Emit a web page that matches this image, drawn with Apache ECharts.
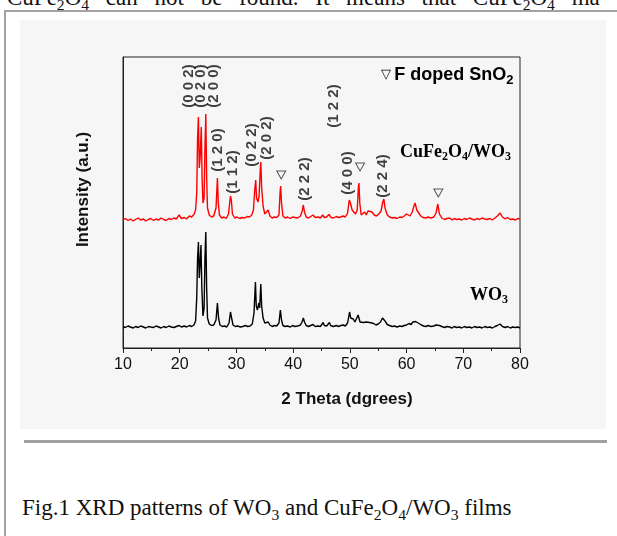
<!DOCTYPE html>
<html>
<head>
<meta charset="utf-8">
<title>Fig.1 XRD patterns of WO3 and CuFe2O4/WO3 films</title>
<script src="https://cdn.jsdelivr.net/npm/echarts@6/dist/echarts.min.js"></script>
<style>
    html, body { margin: 0; padding: 0; background: #fff; }
    #page { position: relative; width: 617px; height: 536px; overflow: hidden; font-family: 'Liberation Serif', 'Times New Roman', serif; color: #111; }
    .doc-line { position: absolute; left: 7px; top: -14px; font-size: 23px; line-height: 23px; white-space: nowrap; word-spacing: 11px; }
    .sb { font-size: 0.68em; position: relative; top: 0.3em; }
    #frame { position: absolute; left: 4px; top: 10px; width: 700px; height: 600px; border-left: 2px solid #a3a3a3; border-top: 2px solid #a3a3a3; }
    #figbg { position: absolute; left: 20px; top: 20px; width: 586px; height: 409px; background: #f6f6f6; }
    #rule { position: absolute; left: 24px; top: 440px; width: 583px; height: 3px; background: #a0a0a0; }
    #caption { position: absolute; left: 22px; top: 496px; font-size: 23px; line-height: 23px; white-space: nowrap; }
    #chart { position: absolute; left: 0; top: 0; width: 617px; height: 536px; }
</style>
</head>
<body>
<div id="page">
    <div class="doc-line">CuFe<span class="sb">2</span>O<span class="sb">4</span> can not be found. It means that CuFe<span class="sb">2</span>O<span class="sb">4</span> ma</div>
    <div id="frame"></div>
    <div id="figbg"></div>
    <div id="rule"></div>
    <div id="caption">Fig.1 XRD patterns of WO<span class="sb">3</span> and CuFe<span class="sb">2</span>O<span class="sb">4</span>/WO<span class="sb">3</span> films</div>
    <div id="chart"></div>
</div>
<script>
// 2 theta (deg), intensity (a.u., offset pattern)
var cfoPattern = [
    [10.0, 1280], [10.4, 1295], [10.9, 1275], [11.3, 1290], [11.8, 1270], [12.2, 1285], [12.7, 1300], [13.1, 1280],
    [13.6, 1290], [14.0, 1270], [14.5, 1285], [14.9, 1295], [15.4, 1275], [15.8, 1290], [16.3, 1280], [16.7, 1300],
    [17.2, 1285], [17.6, 1275], [18.1, 1295], [18.5, 1285], [19.0, 1300], [19.4, 1290], [19.9, 1330], [20.3, 1295],
    [20.8, 1305], [21.2, 1290], [21.7, 1320], [22.1, 1310], [22.5, 1335], [22.8, 1380], [23.0, 1550], [23.15, 2100],
    [23.3, 2310], [23.45, 1800], [23.6, 1900], [23.8, 2210], [23.95, 1700], [24.1, 1450], [24.3, 1500], [24.45, 2000],
    [24.6, 2340], [24.75, 1700], [24.9, 1400], [25.2, 1330], [25.6, 1310], [26.0, 1320], [26.4, 1400], [26.65, 1700],
    [26.8, 1450], [27.0, 1330], [27.4, 1300], [27.8, 1310], [28.2, 1295], [28.6, 1340], [28.95, 1520], [29.1, 1480],
    [29.3, 1340], [29.7, 1300], [30.1, 1310], [30.6, 1295], [31.0, 1305], [31.5, 1300], [31.9, 1315], [32.3, 1310],
    [32.7, 1330], [33.0, 1380], [33.2, 1560], [33.4, 1680], [33.55, 1500], [33.8, 1460], [34.0, 1520], [34.2, 1780],
    [34.3, 1860], [34.45, 1600], [34.7, 1420], [35.0, 1340], [35.3, 1340], [35.6, 1380], [35.9, 1320], [36.3, 1300],
    [36.7, 1310], [37.1, 1305], [37.5, 1330], [37.7, 1560], [37.8, 1620], [37.95, 1450], [38.2, 1320], [38.6, 1300],
    [39.0, 1310], [39.5, 1295], [39.9, 1310], [40.3, 1305], [40.8, 1300], [41.3, 1320], [41.6, 1370], [41.8, 1430],
    [42.0, 1360], [42.3, 1310], [42.7, 1300], [43.1, 1315], [43.5, 1330], [43.9, 1305], [44.4, 1310], [44.8, 1300],
    [45.2, 1330], [45.5, 1305], [45.9, 1310], [46.3, 1335], [46.7, 1305], [47.1, 1300], [47.6, 1315], [48.0, 1305],
    [48.4, 1310], [48.8, 1320], [49.2, 1310], [49.6, 1350], [49.9, 1480], [50.1, 1450], [50.4, 1380], [50.7, 1360],
    [51.0, 1340], [51.3, 1380], [51.5, 1600], [51.6, 1650], [51.75, 1450], [52.0, 1330], [52.3, 1340], [52.6, 1360],
    [52.9, 1330], [53.2, 1370], [53.5, 1350], [53.9, 1360], [54.3, 1330], [54.7, 1320], [55.1, 1340], [55.5, 1370],
    [55.8, 1460], [56.0, 1490], [56.2, 1400], [56.6, 1330], [57.0, 1310], [57.5, 1300], [57.9, 1305], [58.3, 1295],
    [58.8, 1310], [59.2, 1305], [59.6, 1320], [60.0, 1340], [60.3, 1350], [60.6, 1320], [61.0, 1360], [61.3, 1420],
    [61.5, 1450], [61.8, 1380], [62.1, 1360], [62.5, 1320], [62.9, 1305], [63.4, 1300], [63.8, 1310], [64.3, 1300],
    [64.8, 1310], [65.2, 1350], [65.5, 1440], [65.8, 1340], [66.2, 1300], [66.7, 1285], [67.1, 1295], [67.6, 1300],
    [68.0, 1280], [68.4, 1295], [68.8, 1285], [69.3, 1290], [69.7, 1280], [70.2, 1295], [70.6, 1285], [71.1, 1300],
    [71.5, 1290], [72.0, 1280], [72.4, 1295], [72.9, 1285], [73.3, 1300], [73.8, 1290], [74.2, 1285], [74.7, 1295],
    [75.1, 1280], [75.6, 1300], [76.0, 1320], [76.5, 1350], [76.9, 1310], [77.4, 1290], [77.8, 1305], [78.3, 1285],
    [78.7, 1290], [79.2, 1280], [79.6, 1295], [80.0, 1290]
];

var wo3Pattern = [
    [10.0, 215], [10.4, 205], [10.9, 220], [11.3, 210], [11.8, 200], [12.2, 215], [12.7, 205], [13.1, 220],
    [13.6, 210], [14.0, 200], [14.5, 215], [14.9, 210], [15.4, 205], [15.8, 220], [16.3, 210], [16.7, 200],
    [17.2, 215], [17.6, 205], [18.1, 220], [18.5, 210], [19.0, 205], [19.4, 215], [19.9, 225], [20.3, 210],
    [20.8, 220], [21.2, 210], [21.7, 225], [22.1, 215], [22.5, 230], [22.8, 270], [23.0, 500], [23.15, 900],
    [23.3, 1060], [23.45, 700], [23.6, 850], [23.75, 1030], [23.9, 600], [24.1, 320], [24.3, 400], [24.45, 900],
    [24.6, 1160], [24.75, 600], [24.9, 300], [25.2, 240], [25.6, 225], [26.0, 230], [26.4, 280], [26.65, 450],
    [26.85, 300], [27.1, 230], [27.5, 215], [27.9, 220], [28.3, 210], [28.7, 250], [28.95, 360], [29.15, 300],
    [29.4, 230], [29.8, 215], [30.2, 220], [30.7, 210], [31.1, 215], [31.6, 225], [32.0, 215], [32.4, 220],
    [32.8, 240], [33.1, 350], [33.35, 660], [33.5, 420], [33.7, 380], [33.95, 450], [34.1, 400], [34.3, 640],
    [34.45, 420], [34.7, 300], [35.0, 250], [35.3, 240], [35.6, 260], [35.9, 230], [36.3, 215], [36.7, 225],
    [37.1, 220], [37.5, 250], [37.75, 380], [37.95, 280], [38.2, 225], [38.6, 215], [39.0, 220], [39.5, 210],
    [39.9, 225], [40.3, 215], [40.8, 220], [41.3, 230], [41.6, 265], [41.8, 300], [42.0, 260], [42.3, 225],
    [42.7, 215], [43.1, 225], [43.5, 235], [43.9, 215], [44.4, 220], [44.8, 215], [45.1, 230], [45.3, 255],
    [45.5, 225], [45.9, 220], [46.2, 235], [46.4, 255], [46.6, 225], [47.1, 215], [47.6, 225], [48.0, 215],
    [48.4, 225], [48.8, 230], [49.2, 220], [49.6, 250], [49.95, 360], [50.15, 300], [50.4, 310], [50.6, 290],
    [50.9, 260], [51.2, 270], [51.45, 330], [51.6, 310], [51.8, 260], [52.1, 240], [52.4, 255], [52.7, 235],
    [52.9, 260], [53.2, 240], [53.5, 255], [53.8, 235], [54.2, 245], [54.6, 230], [55.0, 240], [55.4, 260],
    [55.75, 300], [55.95, 315], [56.2, 270], [56.6, 235], [57.0, 225], [57.5, 215], [57.9, 220], [58.3, 210],
    [58.8, 220], [59.2, 215], [59.6, 225], [60.0, 230], [60.4, 245], [60.8, 235], [61.1, 260], [61.4, 280],
    [61.6, 265], [61.9, 270], [62.2, 245], [62.6, 230], [63.0, 220], [63.4, 215], [63.8, 225], [64.3, 215],
    [64.8, 220], [65.2, 230], [65.5, 250], [65.8, 225], [66.2, 215], [66.7, 205], [67.1, 215], [67.6, 210],
    [68.0, 200], [68.4, 215], [68.8, 205], [69.3, 210], [69.7, 200], [70.2, 215], [70.6, 205], [71.1, 210],
    [71.5, 200], [72.0, 215], [72.4, 205], [72.9, 210], [73.3, 200], [73.8, 215], [74.2, 205], [74.7, 210],
    [75.1, 200], [75.6, 215], [76.0, 225], [76.5, 240], [76.9, 215], [77.4, 205], [77.8, 215], [78.3, 200],
    [78.7, 210], [79.2, 205], [79.6, 210], [80.0, 200]
];

// Miller index labels: text, 2 theta, height of label centre
var hklNames = ['(0 0 2)', '(0 2 0)', '(2 0 0)', '(1 2 0)', '(1 1 2)', '(0 2 2)', '(2 0 2)', '(1 2 2)', '(2 2 2)', '(4 0 0)', '(2 2 4)'];
var hklTheta = [21.6, 23.8, 26.0, 26.8, 29.4, 32.8, 35.3, 47.2, 42.1, 49.7, 55.9];
var hklHeight = [2620, 2620, 2620, 1980, 1760, 2030, 2100, 2420, 1690, 1750, 1720];

// F doped SnO2 markers
var snTheta = [37.9, 51.8, 65.6];
var snHeight = [1730, 1810, 1550];

var xTicks = [10, 20, 30, 40, 50, 60, 70, 80];

var chart = echarts.init(document.getElementById('chart'), null, { renderer: 'canvas' });

var hklData = [];
for (var i = 0; i < hklNames.length; i++) {
    hklData.push({ name: hklNames[i], value: [hklTheta[i], hklHeight[i]] });
}
var snData = [];
for (var j = 0; j < snTheta.length; j++) {
    snData.push([snTheta[j], snHeight[j]]);
}

var serifBig = { fontFamily: 'Liberation Serif, Times New Roman, serif', fontWeight: 'bold', fontSize: 18, color: '#111', lineHeight: 22 };
var serifSub = { fontFamily: 'Liberation Serif, Times New Roman, serif', fontWeight: 'bold', fontSize: 12, color: '#111', lineHeight: 22, verticalAlign: 'bottom' };

var option = {
    animation: false,
    backgroundColor: 'transparent',
    grid: {
        left: 123,
        right: 97,
        top: 57,
        bottom: 188,
        containLabel: false,
        outerBoundsMode: 'none',
        show: true,
        borderColor: '#222',
        borderWidth: 1,
        backgroundColor: 'transparent'
    },
    xAxis: {
        type: 'value',
        min: xTicks[0],
        max: xTicks[xTicks.length - 1],
        interval: 10,
        name: '2 Theta (dgrees)',
        nameLocation: 'middle',
        nameGap: 43,
        nameTextStyle: {
            fontFamily: 'Liberation Sans, Arial, sans-serif',
            fontWeight: 'bold',
            fontSize: 17,
            color: '#111',
            padding: [0, 0, 0, 51]
        },
        axisLine: { lineStyle: { color: '#222', width: 1 } },
        axisTick: { show: true, inside: false, length: 5, lineStyle: { color: '#222' } },
        minorTick: { show: true, splitNumber: 2, length: 3, lineStyle: { color: '#222' } },
        axisLabel: {
            margin: 9,
            fontFamily: 'Liberation Sans, Arial, sans-serif',
            fontSize: 16,
            color: '#111'
        },
        splitLine: { show: false }
    },
    yAxis: {
        type: 'value',
        min: 0,
        max: 2910,
        name: 'Intensity (a.u.)',
        nameLocation: 'middle',
        nameGap: 31,
        nameTextStyle: {
            fontFamily: 'Liberation Sans, Arial, sans-serif',
            fontWeight: 'bold',
            fontSize: 17,
            color: '#111',
            padding: [0, 0, 0, 26]
        },
        axisLine: { show: true, lineStyle: { color: '#222', width: 1 } },
        axisTick: { show: false },
        axisLabel: { show: false },
        splitLine: { show: false }
    },
    series: [
        {
            name: 'CuFe2O4/WO3',
            type: 'line',
            data: cfoPattern,
            symbol: 'none',
            lineStyle: { color: '#ff0000', width: 1.4 },
            z: 3
        },
        {
            name: 'WO3',
            type: 'line',
            data: wo3Pattern,
            symbol: 'none',
            lineStyle: { color: '#000', width: 1.4 },
            z: 3
        },
        {
            name: 'hkl',
            type: 'scatter',
            data: hklData,
            symbolSize: 0,
            silent: true,
            label: {
                show: true,
                position: 'inside',
                rotate: 90,
                formatter: '{b}',
                fontFamily: 'Liberation Sans, Arial, sans-serif',
                fontWeight: 'bold',
                fontSize: 15,
                color: '#111'
            },
            z: 4
        },
        {
            name: 'F doped SnO2',
            type: 'scatter',
            data: snData,
            symbol: 'triangle',
            symbolRotate: 180,
            symbolSize: [9, 8],
            itemStyle: { color: 'transparent', borderColor: '#333', borderWidth: 1 },
            silent: true,
            z: 4
        }
    ],
    graphic: [
        {
            type: 'text',
            left: 381,
            top: 66,
            style: {
                text: '{t|\u25BD} {b|F doped SnO}{s|2}',
                rich: {
                    t: { fontFamily: 'DejaVu Sans', fontSize: 13, color: '#333', lineHeight: 24 },
                    b: { fontFamily: 'Liberation Sans, Arial, sans-serif', fontWeight: 'bold', fontSize: 18, color: '#111', lineHeight: 24 },
                    s: { fontFamily: 'Liberation Sans, Arial, sans-serif', fontWeight: 'bold', fontSize: 13, color: '#111', lineHeight: 24, verticalAlign: 'bottom' }
                }
            }
        },
        {
            type: 'text',
            left: 400,
            top: 143,
            style: {
                text: '{b|CuFe}{s|2}{b|O}{s|4}{b|/WO}{s|3}',
                rich: { b: serifBig, s: serifSub }
            }
        },
        {
            type: 'text',
            left: 470,
            top: 286,
            style: {
                text: '{b|WO}{s|3}',
                rich: { b: serifBig, s: serifSub }
            }
        }
    ]
};

chart.setOption(option);
</script>
</body>
</html>
